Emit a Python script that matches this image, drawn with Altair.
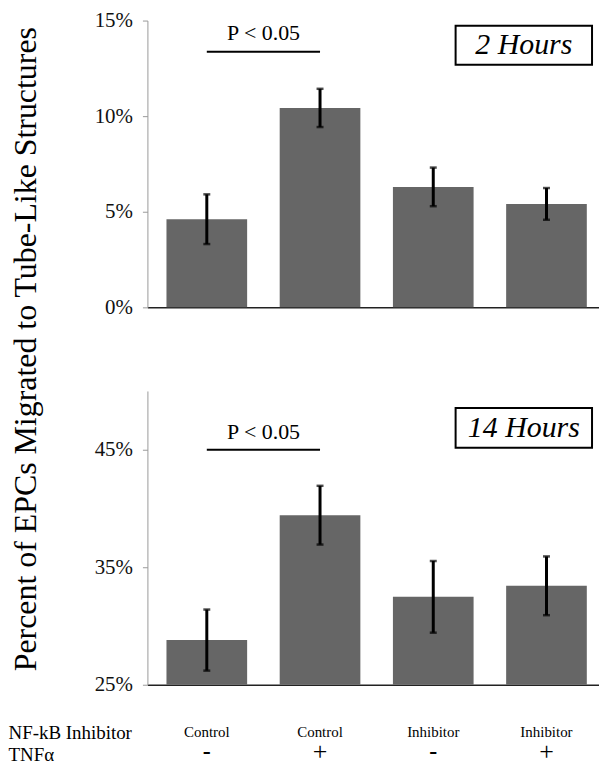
import altair as alt
import pandas as pd

# ---- data ----
keys = ["C-", "C+", "I-", "I+"]
inhibitor_labels = ["Control", "Control", "Inhibitor", "Inhibitor"]
tnf_labels = ["-", "+", "-", "+"]

mean_2h = [4.61, 10.43, 6.30, 5.41]
err_2h = [1.30, 1.00, 1.01, 0.83]

mean_14h = [28.8, 39.43, 32.48, 33.42]
err_14h = [2.60, 2.50, 3.05, 2.50]

y_ticks_2h = [0, 5, 10, 15]
y_ticks_14h = [25, 35, 45]

y_title = "Percent of EPCs Migrated to Tube-Like Structures"
row_titles = ["NF-kB Inhibitor", "TNF\u03b1"]
sig_text = "P < 0.05"
panel_labels = ["2 Hours", "14 Hours"]

SERIF = "'Liberation Serif', 'Times New Roman', Times, serif"
W = 453.5
H_TOP = 288
H_BOT = 295

def frame(means, errs):
    return pd.DataFrame({
        "key": keys,
        "inh": inhibitor_labels,
        "tnf": tnf_labels,
        "mean": means,
        "lo": [m - e for m, e in zip(means, errs)],
        "hi": [m + e for m, e in zip(means, errs)],
    })

xscale = alt.Scale(paddingInner=0.2876, paddingOuter=0.138, align=0.61)
xaxis = alt.Axis(labels=False, ticks=False, title=None, domainColor="#222222",
                 domainWidth=1.5)

def panel(df, domain, ticks, h, sig_y, sig_text_y, box_y, box_y2, label_y, label, base):
    X = alt.X("key:N", sort=keys, scale=xscale, axis=xaxis)
    yaxis = alt.Axis(values=ticks, labelExpr="datum.value + '%'", grid=False,
                     title=None, domainColor="#999999", tickColor="#999999",
                     tickSize=5, labelFont=SERIF, labelFontSize=21,
                     labelColor="#111111", labelPadding=10)
    Y = alt.Y("mean:Q", scale=alt.Scale(domain=domain, zero=False, nice=False), axis=yaxis)
    basec = alt.Chart(df)
    bars = basec.mark_bar(color="#666666").encode(x=X, y=Y, y2=alt.datum(domain[0]))
    rule = basec.mark_rule(color="black", strokeWidth=3).encode(x=X, y="lo:Q", y2="hi:Q")
    cap_hi = basec.mark_tick(color="black", size=7, thickness=2.5).encode(x=X, y="hi:Q")
    cap_lo = basec.mark_tick(color="black", size=7, thickness=2.5).encode(x=X, y="lo:Q")

    sig_df = pd.DataFrame({"key": keys[:2], "v": [sig_y, sig_y]})
    sig_line = alt.Chart(sig_df).mark_line(color="black", strokeWidth=2).encode(
        x=X, y=alt.Y("v:Q"))
    sig_lab = alt.Chart(pd.DataFrame({"key": [keys[0]], "t": [sig_text]})).mark_text(
        font=SERIF, fontSize=22, color="black", dx=57, baseline="middle").encode(
        x=X, y=alt.datum(sig_text_y), text="t:N")

    box = alt.Chart(pd.DataFrame({"a": [0]})).mark_rect(
        fill="white", stroke="black", strokeWidth=2).encode(
        x=alt.value(309.5), x2=alt.value(446.5), y=alt.datum(box_y), y2=alt.datum(box_y2))
    box_txt = alt.Chart(pd.DataFrame({"t": [label]})).mark_text(
        font=SERIF, fontSize=30, fontStyle="italic", color="black", baseline="middle").encode(
        x=alt.value(378), y=alt.datum(label_y), text="t:N")

    layers = [bars, rule, cap_hi, cap_lo, sig_line, sig_lab, box, box_txt]
    if base:
        cat_lab = basec.mark_text(font=SERIF, fontSize=15, color="black", baseline="middle").encode(
            x=X, y=alt.value(h + 47), text="inh:N")
        plus_lab = basec.transform_filter(alt.datum.tnf == "+").mark_text(
            font=SERIF, fontSize=26, color="black", baseline="middle").encode(
            x=X, y=alt.value(h + 68), text="tnf:N")
        minus_lab = basec.transform_filter(alt.datum.tnf == "-").mark_text(
            font=SERIF, fontSize=24, fontWeight="bold", color="black", baseline="middle").encode(
            x=X, y=alt.value(h + 68), text="tnf:N")
        row1 = alt.Chart(pd.DataFrame({"t": [row_titles[0]]})).mark_text(
            font=SERIF, fontSize=19, color="black", align="left", baseline="middle").encode(
            x=alt.value(-139.5), y=alt.value(h + 48), text="t:N")
        row2 = alt.Chart(pd.DataFrame({"t": [row_titles[1]]})).mark_text(
            font=SERIF, fontSize=19, color="black", align="left", baseline="middle").encode(
            x=alt.value(-139.5), y=alt.value(h + 71), text="t:N")
        layers += [cat_lab, plus_lab, minus_lab, row1, row2]
    else:
        title = alt.Chart(pd.DataFrame({"t": [y_title]})).mark_text(
            font=SERIF, fontSize=32, color="black", angle=270, align="center",
            baseline="alphabetic").encode(
            x=alt.value(-112), y=alt.value(330), text="t:N")
        layers.append(title)
    return alt.layer(*layers).properties(width=W, height=h)

top = panel(frame(mean_2h, err_2h), [0, 15], y_ticks_2h, H_TOP,
            13.37, 14.37, 14.73, 12.69, 13.71, panel_labels[0], False)
bot = panel(frame(mean_14h, err_14h), [25, 50], y_ticks_14h, H_BOT,
            45.0, 46.53, 48.56, 45.17, 46.86, panel_labels[1], True)

chart = alt.vconcat(top, bot, spacing=84, bounds="flush").properties(
    padding=0, background="white").configure_view(strokeWidth=0)

chart.save("out.html", embed_options={"renderer": "svg", "actions": False})
